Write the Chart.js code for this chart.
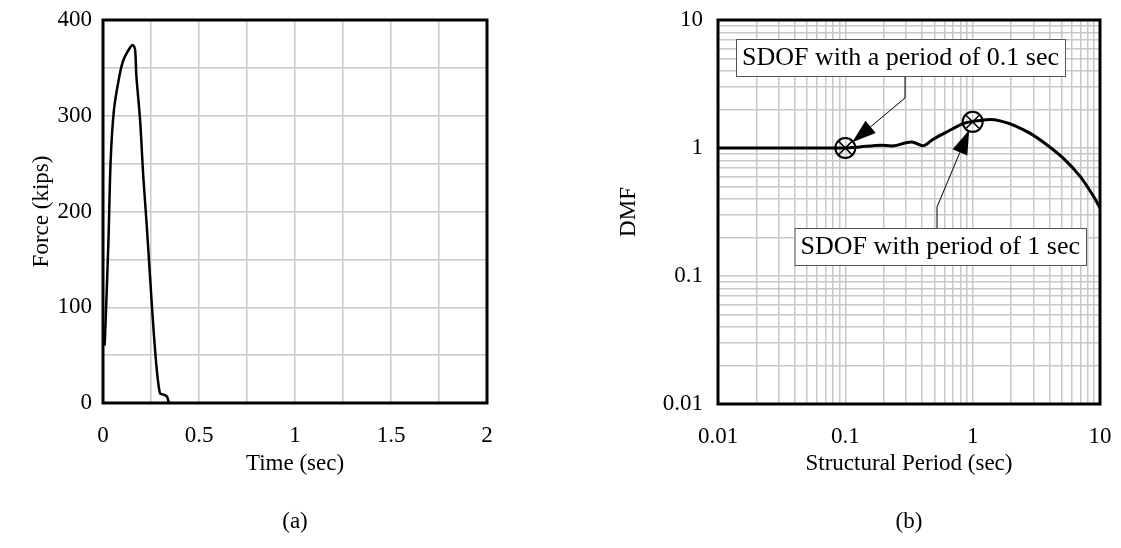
<!DOCTYPE html>
<html>
<head>
<meta charset="utf-8">
<script src="https://cdn.jsdelivr.net/npm/chart.js@4.4.1/dist/chart.umd.min.js"></script>
<style>
    body { margin: 0; background: #fff; width: 1121px; height: 548px; position: relative; overflow: hidden; font-family: "Liberation Serif", serif; }
    #wrap-a { position: absolute; left: 0; top: 0; width: 560px; height: 548px; }
    #wrap-b { position: absolute; left: 560px; top: 0; width: 561px; height: 548px; }
    .cap { position: absolute; top: 508px; font-size: 23px; width: 80px; text-align: center; }
</style>
</head>
<body>
<div id="wrap-a"><canvas id="force-chart"></canvas></div>
<div id="wrap-b"><canvas id="dmf-chart"></canvas></div>
<div class="cap" style="left:255px">(a)</div>
<div class="cap" style="left:869px">(b)</div>
<script>
// (a) force time history
const timeSec = [0.008, 0.010, 0.028, 0.040, 0.057, 0.085, 0.106, 0.137, 0.155, 0.167, 0.174, 0.193, 0.210, 0.227, 0.245, 0.262, 0.280, 0.297, 0.313, 0.332, 0.344];
const forceKips = [60, 66, 167, 254, 306, 341, 358, 370, 374, 369, 341, 296, 236, 188, 132, 80, 35, 10, 9, 7, 0];

// (b) DMF spectrum
const periodSec = [0.01, 0.1, 0.13, 0.19, 0.24, 0.30, 0.34, 0.41, 0.49, 0.63, 0.85, 1.0, 1.08, 1.37, 1.64, 2.09, 2.83, 3.82, 5.16, 6.98, 8.88, 10];
const dmf = [1, 1, 1.02, 1.05, 1.04, 1.10, 1.11, 1.04, 1.17, 1.34, 1.56, 1.61, 1.63, 1.67, 1.63, 1.51, 1.30, 1.06, 0.83, 0.60, 0.42, 0.34];

const markerPeriod = [0.1, 1];
const markerDmf = [1, 1.6];
const calloutText = ['SDOF with a period of 0.1 sec', 'SDOF with period of 1 sec'];

const logDecades = [0.01, 0.1, 1];

Chart.defaults.font.family = '"Liberation Serif", "Times New Roman", serif';
Chart.defaults.font.size = 23;
Chart.defaults.color = '#000';

const gridColor = '#c8c8c8';

function logTicks() {
    const out = [];
    logDecades.forEach(d => {
        for (let k = 1; k <= 9; k++) out.push(parseFloat((k * d).toPrecision(3)));
    });
    out.push(10);
    return out;
}

function isPow10(v) {
    const l = Math.log10(v);
    return Math.abs(l - Math.round(l)) < 1e-9;
}

// fixed axis boxes so both plot areas land where the figure has them
function fixX(h) {
    return s => { s.height = h; s.paddingLeft = 0; s.paddingRight = 0; };
}
function fixY(w) {
    return s => { s.width = w; s.paddingTop = 0; s.paddingBottom = 0; };
}

// thick frame round the plot area
const framePlugin = {
    id: 'frame',
    afterDatasetsDraw(chart) {
        const a = chart.chartArea;
        const ctx = chart.ctx;
        ctx.save();
        ctx.strokeStyle = '#000';
        ctx.lineWidth = 3;
        ctx.strokeRect(a.left, a.top, a.right - a.left, a.bottom - a.top);
        ctx.restore();
    }
};

// boxed labels with leader and arrow
const calloutPlugin = {
    id: 'callouts',
    afterDraw(chart, args, opts) {
        if (!opts.items) return;
        const a = chart.chartArea;
        const ctx = chart.ctx;
        const xs = chart.scales.x, ys = chart.scales.y;
        ctx.save();
        ctx.font = '26px "Liberation Serif", serif';
        opts.items.forEach(it => {
            const w = ctx.measureText(it.text).width + 12;
            const h = 37;
            let bx = it.alignRight ? a.right - it.dx - w : a.left + it.dx;
            const by = a.top + it.dy;
            // leader
            const sx = a.left + it.leadX;
            const sy = it.fromTop ? by : by + h;
            const ex = sx, ey = a.top + it.elbowY;
            const tx0 = xs.getPixelForValue(it.target[0]);
            const ty0 = ys.getPixelForValue(it.target[1]);
            const ang = Math.atan2(ey - ty0, ex - tx0);
            const tx = tx0 + Math.cos(ang) * 9, ty = ty0 + Math.sin(ang) * 9;
            const bxh = tx + Math.cos(ang) * 24, byh = ty + Math.sin(ang) * 24;
            ctx.strokeStyle = '#000';
            ctx.lineWidth = 1;
            ctx.beginPath();
            ctx.moveTo(sx, sy);
            ctx.lineTo(ex, ey);
            ctx.lineTo(bxh, byh);
            ctx.stroke();
            ctx.fillStyle = '#000';
            ctx.beginPath();
            ctx.moveTo(tx, ty);
            ctx.lineTo(bxh + Math.sin(ang) * 8, byh - Math.cos(ang) * 8);
            ctx.lineTo(bxh - Math.sin(ang) * 8, byh + Math.cos(ang) * 8);
            ctx.closePath();
            ctx.fill();
            // box
            ctx.fillStyle = '#fff';
            ctx.fillRect(bx, by, w, h);
            ctx.strokeStyle = '#555';
            ctx.strokeRect(bx + 0.5, by + 0.5, w, h);
            ctx.fillStyle = '#000';
            ctx.textBaseline = 'middle';
            ctx.fillText(it.text, bx + 6, by + h / 2 + 1);
        });
        ctx.restore();
    }
};

new Chart(document.getElementById('force-chart'), {
    type: 'line',
    data: {
        datasets: [{
            data: timeSec.map((t, i) => ({ x: t, y: forceKips[i] })),
            borderColor: '#000',
            borderWidth: 2.5,
            pointRadius: 0,
            tension: 0.3,
            fill: false
        }]
    },
    options: {
        responsive: true,
        maintainAspectRatio: false,
        animation: false,
        layout: { padding: { top: 20, right: 73, left: 0, bottom: 0 } },
        plugins: { legend: { display: false }, tooltip: { enabled: false } },
        scales: {
            x: {
                type: 'linear',
                min: 0, max: 2,
                afterFit: fixX(145),
                grid: { color: gridColor, lineWidth: 1.5, drawTicks: false },
                border: { display: false },
                ticks: {
                    stepSize: 0.25, autoSkip: false, maxRotation: 0, padding: 19,
                    callback: v => (Math.abs(v * 2 - Math.round(v * 2)) < 1e-9 ? String(v) : '')
                },
                title: { display: true, text: 'Time (sec)', padding: { top: 0, bottom: 70 } }
            },
            y: {
                min: 0, max: 400,
                afterFit: fixY(103),
                grid: { color: gridColor, lineWidth: 1.5, drawTicks: false },
                border: { display: false },
                ticks: {
                    stepSize: 50, autoSkip: false, padding: 11,
                    callback: v => (v % 100 === 0 ? String(v) : '')
                },
                title: { display: true, text: 'Force (kips)', padding: { top: 28, bottom: 0 } }
            }
        }
    },
    plugins: [framePlugin]
});

new Chart(document.getElementById('dmf-chart'), {
    type: 'line',
    data: {
        datasets: [{
            data: periodSec.map((t, i) => ({ x: t, y: dmf[i] })),
            borderColor: '#000',
            borderWidth: 3,
            pointRadius: 0,
            tension: 0.3,
            fill: false
        }, {
            data: markerPeriod.map((t, i) => ({ x: t, y: markerDmf[i] })),
            showLine: false,
            pointStyle: 'circle',
            pointRadius: 10,
            pointBorderWidth: 2,
            pointBorderColor: '#000',
            pointBackgroundColor: 'rgba(0,0,0,0)'
        }, {
            data: markerPeriod.map((t, i) => ({ x: t, y: markerDmf[i] })),
            showLine: false,
            pointStyle: 'crossRot',
            pointRadius: 9,
            pointBorderWidth: 1.5,
            pointBorderColor: '#000'
        }]
    },
    options: {
        responsive: true,
        maintainAspectRatio: false,
        animation: false,
        layout: { padding: { top: 20, right: 21, left: 0, bottom: 0 } },
        plugins: {
            legend: { display: false },
            tooltip: { enabled: false },
            callouts: {
                items: [
                    { text: calloutText[0], target: [markerPeriod[0], markerDmf[0]], dx: 18, dy: 19, leadX: 187, elbowY: 78, fromTop: false, alignRight: false },
                    { text: calloutText[1], target: [markerPeriod[1], markerDmf[1]], dx: 14, dy: 208, leadX: 219, elbowY: 187, fromTop: true, alignRight: true }
                ]
            }
        },
        scales: {
            x: {
                type: 'logarithmic',
                min: 0.01, max: 10,
                afterFit: fixX(144),
                afterBuildTicks(s) { s.ticks = logTicks().map(v => ({ value: v })); },
                grid: { color: gridColor, lineWidth: 1.5, drawTicks: false },
                border: { display: false },
                ticks: {
                    autoSkip: false, maxRotation: 0, padding: 19,
                    callback: v => (isPow10(v) ? String(v) : '')
                },
                title: { display: true, text: 'Structural Period (sec)', padding: { top: 0, bottom: 70 } }
            },
            y: {
                type: 'logarithmic',
                min: 0.01, max: 10,
                afterFit: fixY(158),
                afterBuildTicks(s) { s.ticks = logTicks().map(v => ({ value: v })); },
                grid: { color: gridColor, lineWidth: 1.5, drawTicks: false },
                border: { display: false },
                ticks: {
                    autoSkip: false, padding: 15,
                    callback: v => (isPow10(v) ? String(v) : '')
                },
                title: { display: true, text: 'DMF', padding: { top: 55, bottom: 0 } }
            }
        }
    },
    plugins: [framePlugin, calloutPlugin]
});
</script>
</body>
</html>
